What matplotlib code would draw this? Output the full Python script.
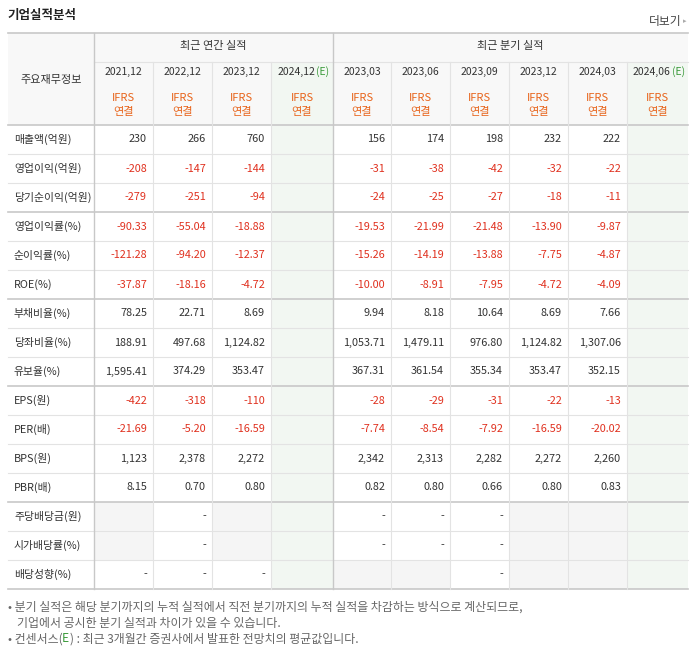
import matplotlib
matplotlib.use("Agg")
import matplotlib.pyplot as plt
from matplotlib.patches import Rectangle

plt.rcParams['font.family'] = ['Noto Sans CJK KR', 'DejaVu Sans']

periods = ["2021,12", "2022,12", "2023,12", "2024,12", "2023,03", "2023,06", "2023,09", "2023,12", "2024,03", "2024,06"]
estimate = [False, False, False, True, False, False, False, False, False, True]
row_labels = ["매출액(억원)", "영업이익(억원)", "당기순이익(억원)", "영업이익률(%)", "순이익률(%)", "ROE(%)",
              "부채비율(%)", "당좌비율(%)", "유보율(%)", "EPS(원)", "PER(배)", "BPS(원)", "PBR(배)",
              "주당배당금(원)", "시가배당률(%)", "배당성향(%)"]
G = None  # grey empty cell
E = ""    # empty cell
values = [
    ["230", "266", "760", E, "156", "174", "198", "232", "222", E],
    ["-208", "-147", "-144", E, "-31", "-38", "-42", "-32", "-22", E],
    ["-279", "-251", "-94", E, "-24", "-25", "-27", "-18", "-11", E],
    ["-90.33", "-55.04", "-18.88", E, "-19.53", "-21.99", "-21.48", "-13.90", "-9.87", E],
    ["-121.28", "-94.20", "-12.37", E, "-15.26", "-14.19", "-13.88", "-7.75", "-4.87", E],
    ["-37.87", "-18.16", "-4.72", E, "-10.00", "-8.91", "-7.95", "-4.72", "-4.09", E],
    ["78.25", "22.71", "8.69", E, "9.94", "8.18", "10.64", "8.69", "7.66", E],
    ["188.91", "497.68", "1,124.82", E, "1,053.71", "1,479.11", "976.80", "1,124.82", "1,307.06", E],
    ["1,595.41", "374.29", "353.47", E, "367.31", "361.54", "355.34", "353.47", "352.15", E],
    ["-422", "-318", "-110", E, "-28", "-29", "-31", "-22", "-13", E],
    ["-21.69", "-5.20", "-16.59", E, "-7.74", "-8.54", "-7.92", "-16.59", "-20.02", E],
    ["1,123", "2,378", "2,272", E, "2,342", "2,313", "2,282", "2,272", "2,260", E],
    ["8.15", "0.70", "0.80", E, "0.82", "0.80", "0.66", "0.80", "0.83", E],
    [G, "-", G, E, "-", "-", "-", G, G, E],
    [G, "-", G, E, "-", "-", "-", G, G, E],
    ["-", "-", "-", E, G, G, "-", G, G, E],
]

fig = plt.figure(figsize=(6.94, 6.48), dpi=100)
ax = fig.add_axes([0, 0, 1, 1])
ax.set_xlim(0, 694); ax.set_ylim(648, 0); ax.axis('off')

xb = [8, 94, 153, 212, 271, 333, 391, 450, 509, 568, 627, 688]
rb = [125, 154, 183, 212, 241, 270, 299, 328, 357, 386, 415, 444, 473, 502, 531, 560, 589]
top, h1, h2 = 33, 62, 82
lc = "#e3e3e3"; dark = "#333333"; red = "#e0301e"; org = "#e8641b"
green = "#f2f7f2"; grey = "#f5f5f5"

ax.add_patch(Rectangle((xb[0], top), xb[-1]-xb[0], rb[0]-top, color="#f8f8f8", lw=0))
for j, e in enumerate(estimate):
    if e:
        ax.add_patch(Rectangle((xb[j+1], h1), xb[j+2]-xb[j+1], rb[-1]-h1, color=green, lw=0))
for i, row in enumerate(values):
    for j, v in enumerate(row):
        if v is None:
            ax.add_patch(Rectangle((xb[j+1], rb[i]), xb[j+2]-xb[j+1], rb[i+1]-rb[i], color=grey, lw=0))

for i, y in enumerate(rb):
    thick = y in (125, 212, 299, 386, 502, 589)
    ax.plot([xb[0], xb[-1]], [y, y], color="#c8c8c8" if thick else lc, lw=1.2 if thick else 0.8)
ax.plot([xb[0], xb[-1]], [top, top], color="#c8c8c8", lw=1.2)
ax.plot([xb[1], xb[-1]], [h1, h1], color=lc, lw=0.8)
for k, x in enumerate(xb[1:-1], start=1):
    main = x in (94, 333)
    y0 = top if main else h1
    ax.plot([x, x], [y0, rb[-1]], color="#c8c8c8" if main else lc, lw=1.0 if main else 0.8)

ax.text(8, 15, "기업실적분석", fontsize=9, fontweight='bold', color="#222", va='center')
ax.text(682, 21, "더보기", fontsize=8.5, color="#444", va='center', ha='right')
ax.text(686, 21, "▸", fontsize=5, color="#aaa", va='center', ha='right')
ax.text((xb[1]+xb[5])/2, 46, "최근 연간 실적", fontsize=8, color=dark, ha='center', va='center')
ax.text((xb[5]+xb[-1])/2, 46, "최근 분기 실적", fontsize=8, color=dark, ha='center', va='center')
ax.text((xb[0]+xb[1])/2, 80, "주요재무정보", fontsize=8, color=dark, ha='center', va='center')
for j, p in enumerate(periods):
    cx = (xb[j+1]+xb[j+2])/2
    if estimate[j]:
        ax.text(cx-6, 72, p, fontsize=7.5, color=dark, ha='center', va='center')
        ax.text(cx+21, 72, "(E)", fontsize=7.5, color="#3a9a3a", ha='center', va='center')
    else:
        ax.text(cx, 72, p, fontsize=7.5, color=dark, ha='center', va='center')
    ax.text(cx, 98, "IFRS", fontsize=8, color=org, ha='center', va='center')
    ax.text(cx, 112, "연결", fontsize=8, color=org, ha='center', va='center')

for i, (lab, row) in enumerate(zip(row_labels, values)):
    cy = (rb[i]+rb[i+1])/2
    ax.text(14, cy, lab, fontsize=7.8, color=dark, ha='left', va='center')
    for j, v in enumerate(row):
        if not v:
            continue
        col = red if v.startswith("-") and len(v) > 1 else dark
        ax.text(xb[j+2]-6, cy, v, fontsize=7.8, color=col, ha='right', va='center')

fs = 8.6
ax.text(8, 607, "• 분기 실적은 해당 분기까지의 누적 실적에서 직전 분기까지의 누적 실적을 차감하는 방식으로 계산되므로,",
        fontsize=fs, color="#666", va='center')
ax.text(17, 623, "기업에서 공시한 분기 실적과 차이가 있을 수 있습니다.", fontsize=fs, color="#666", va='center')
t = ax.text(8, 639, "• 컨센서스(", fontsize=fs, color="#666", va='center')
t2 = ax.text(61.5, 639, "E", fontsize=fs, color="#3a9a3a", va='center')
ax.text(70, 639, ") : 최근 3개월간 증권사에서 발표한 전망치의 평균값입니다.", fontsize=fs, color="#666", va='center')

fig.savefig("out.png", dpi=100)
